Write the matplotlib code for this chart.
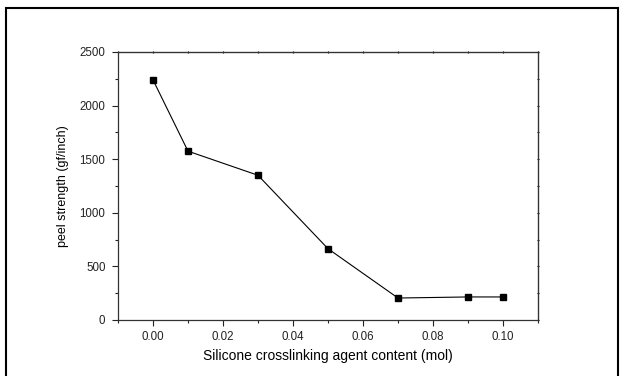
import matplotlib
matplotlib.use("Agg")
import matplotlib.pyplot as plt
from matplotlib.patches import Rectangle
from matplotlib.ticker import MultipleLocator

plt.rcParams["font.family"] = ["Liberation Sans", "DejaVu Sans"]

# peel strength vs crosslinker content
content_mol = [0.00, 0.01, 0.03, 0.05, 0.07, 0.09, 0.10]
peel_strength = [2240, 1575, 1350, 665, 205, 215, 215]
x_ticks = [0.00, 0.02, 0.04, 0.06, 0.08, 0.10]
y_ticks = [0, 500, 1000, 1500, 2000, 2500]

fig = plt.figure(figsize=(6.2, 3.76), dpi=100)

# outer frame around the whole picture
fig.patches.append(Rectangle((6 / 620, -0.02), 612 / 620, 1 - 8 / 376 + 0.02,
                             transform=fig.transFigure, fill=False,
                             edgecolor="black", linewidth=1.5))

ax = fig.add_axes([118 / 620, 1 - 320 / 376, 420 / 620, 268 / 376])
ax.plot(content_mol, peel_strength, color="black", linewidth=0.8,
        marker="s", markersize=5, markerfacecolor="black",
        markeredgecolor="black")

ax.set_xlim(-0.01, 0.11)
ax.set_ylim(0, 2500)
ax.set_xticks(x_ticks)
ax.set_xticklabels([f"{v:.2f}" for v in x_ticks])
ax.set_yticks(y_ticks)
ax.xaxis.set_minor_locator(MultipleLocator(0.01))
ax.yaxis.set_minor_locator(MultipleLocator(250))

# bottom/left ticks point out, mirrored top/right ticks are tiny
ax.tick_params(which="both", direction="out", labelsize=8.3, width=0.8,
               colors="#222222")
ax.tick_params(which="major", length=4)
ax.tick_params(which="minor", length=2.5)
ax.tick_params(axis="x", pad=4)
ax.tick_params(axis="y", pad=5)

sec_top = ax.secondary_xaxis("top")
sec_top.set_xticks(x_ticks)
sec_top.xaxis.set_minor_locator(MultipleLocator(0.01))
sec_top.tick_params(which="both", direction="inout", length=2,
                    labeltop=False, width=0.8)
sec_right = ax.secondary_yaxis("right")
sec_right.set_yticks(y_ticks)
sec_right.yaxis.set_minor_locator(MultipleLocator(250))
sec_right.tick_params(which="both", direction="inout", length=2,
                      labelright=False, width=0.8)

for spine in ax.spines.values():
    spine.set_linewidth(0.9)
    spine.set_color("#333333")

ax.set_xlabel("Silicone crosslinking agent content (mol)", fontsize=10,
              labelpad=4)
ax.set_ylabel("peel strength (gf/inch)", fontsize=9, labelpad=8)

fig.savefig("out.png", dpi=100)
